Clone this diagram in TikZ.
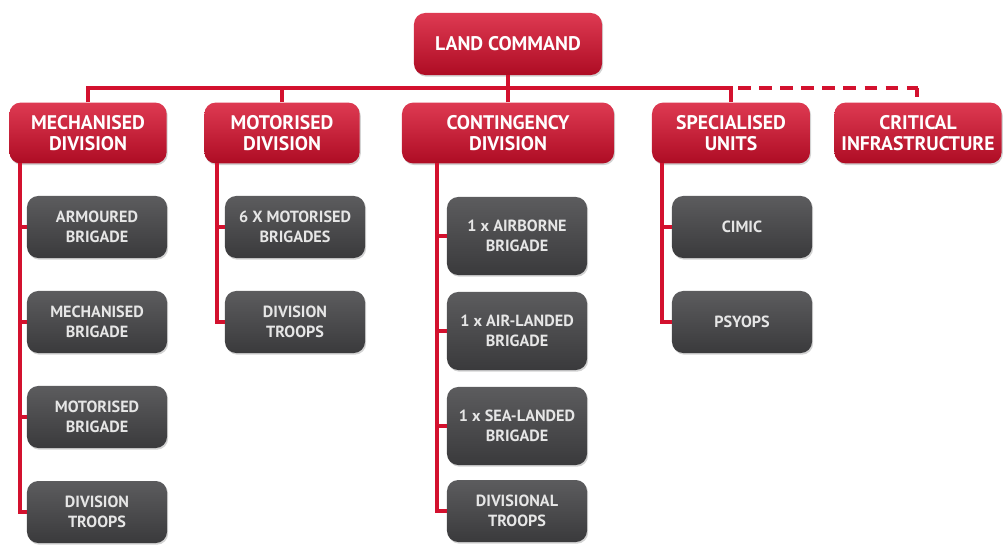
\documentclass[tikz,border=0pt]{standalone}
\usepackage{fontspec}
\setmainfont{PT Sans}
\usetikzlibrary{positioning,shadows}
\definecolor{cmdred}{HTML}{D3112E}
\definecolor{cmdtop}{HTML}{DE3A52}
\definecolor{cmdbot}{HTML}{AE0C24}
\definecolor{unitgray}{HTML}{4E4E50}
\definecolor{unittop}{HTML}{5C5C5E}
\definecolor{unitbot}{HTML}{3A3A3C}
\definecolor{unittext}{HTML}{E6E6E6}
\tikzset{
  cmd/.style={rectangle,rounded corners=8pt,top color=cmdtop,middle color=cmdred,bottom color=cmdbot,
    minimum height=1.52cm,align=center,text=white,font=\fontsize{14}{14.5}\selectfont\bfseries,
    inner sep=0pt,drop shadow={opacity=0.35,shadow xshift=0.8pt,shadow yshift=-1.2pt}},
  unit/.style={rectangle,rounded corners=8pt,top color=unittop,middle color=unitgray,bottom color=unitbot,
    minimum width=3.5cm,minimum height=1.55cm,align=center,text=unittext,
    font=\fontsize{11.5}{14}\selectfont\bfseries,inner sep=0pt,
    drop shadow={opacity=0.35,shadow xshift=0.8pt,shadow yshift=-1.2pt}},
  tall/.style={minimum height=1.95cm},
  link/.style={draw=cmdred,line width=2.4pt}
}
\begin{document}
\begin{tikzpicture}[x=0.025cm,y=-0.025cm]
  \useasboundingbox (0,0) rectangle (1004,552);

  % top level
  \node[cmd,minimum width=4.7cm,minimum height=1.55cm] (lc) at (508,44) {LAND COMMAND};
  \coordinate (bus) at (508,88);

  % divisions
  \node[cmd,minimum width=3.93cm] (md) at (88,133) {MECHANISED\\DIVISION};
  \node[cmd,minimum width=3.88cm] (mo) at (282,133) {MOTORISED\\DIVISION};
  \node[cmd,minimum width=5.3cm] (cd) at (508,133) {CONTINGENCY\\DIVISION};
  \node[cmd,minimum width=3.95cm] (su) at (731,133) {SPECIALISED\\UNITS};
  \node[cmd,minimum width=4.18cm] (ci) at (918,133) {CRITICAL\\INFRASTRUCTURE};

  % mechanised division units
  \node[unit] (md1) at (97,227) {ARMOURED\\BRIGADE};
  \node[unit] (md2) at (97,322) {MECHANISED\\BRIGADE};
  \node[unit] (md3) at (97,417) {MOTORISED\\BRIGADE};
  \node[unit] (md4) at (97,512) {DIVISION\\TROOPS};

  % motorised division units
  \node[unit] (mo1) at (295,227) {6 X MOTORISED\\BRIGADES};
  \node[unit] (mo2) at (295,322) {DIVISION\\TROOPS};

  % contingency division units
  \node[unit,tall] (cd1) at (517,236) {1 x AIRBORNE\\BRIGADE};
  \node[unit,tall] (cd2) at (517,331) {1 x AIR-LANDED\\BRIGADE};
  \node[unit,tall] (cd3) at (517,426) {1 x SEA-LANDED\\BRIGADE};
  \node[unit] (cd4) at (517,511) {DIVISIONAL\\TROOPS};

  % specialised units
  \node[unit] (su1) at (742,227) {CIMIC};
  \node[unit] (su2) at (742,322) {PSYOPS};

  % command bus
  \draw[link] (lc.south) -- (bus);
  \draw[link] (md.north) -- (md.north |- bus) -- (su.north |- bus) -- (su.north);
  \draw[link] (mo.north) -- (mo.north |- bus);
  \draw[link] (cd.north) -- (cd.north |- bus);
  \draw[link,dash pattern=on 9pt off 6pt] (su.north |- bus) ++(7,0) -- (ci.north |- bus);
  \draw[link] (ci.north |- bus) ++(-1,0) -- ++(0,9);

  % spines
  \coordinate (mdS) at (20,163);
  \coordinate (moS) at (217,163);
  \coordinate (cdS) at (437,163);
  \coordinate (suS) at (662,163);
  \foreach \u in {md1,md2,md3,md4} \draw[link] (mdS) |- (\u.west);
  \foreach \u in {mo1,mo2} \draw[link] (moS) |- (\u.west);
  \foreach \u in {cd1,cd2,cd3,cd4} \draw[link] (cdS) |- (\u.west);
  \foreach \u in {su1,su2} \draw[link] (suS) |- (\u.west);
\end{tikzpicture}
\end{document}
